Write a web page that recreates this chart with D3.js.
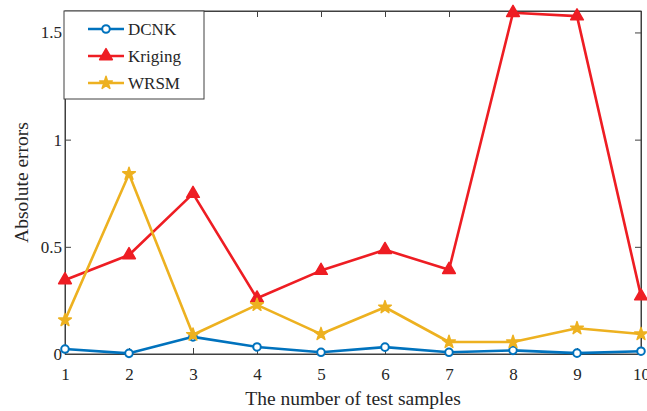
<!DOCTYPE html>
<html>
<head>
<meta charset="utf-8">
<script src="https://cdn.jsdelivr.net/npm/d3@7"></script>
<style>
  body { margin: 0; background: #fff; }
  text { font-family: "Liberation Serif", "Times New Roman", serif; fill: #262626; }
</style>
</head>
<body>
<svg id="chart" width="647" height="411"></svg>
<script>
// --- data ---
const samples = [1, 2, 3, 4, 5, 6, 7, 8, 9, 10];
const dcnk = [0.023, 0.003, 0.08, 0.033, 0.008, 0.032, 0.008, 0.017, 0.004, 0.013];
const kriging = [0.345, 0.462, 0.748, 0.26, 0.389, 0.486, 0.393, 1.592, 1.576, 0.27];
const wrsm = [0.158, 0.84, 0.09, 0.229, 0.093, 0.218, 0.056, 0.056, 0.12, 0.093];
const yTicks = [0, 0.5, 1, 1.5];

const series = [
    { name: "DCNK", values: dcnk, color: "#0072BD", marker: "circle" },
    { name: "Kriging", values: kriging, color: "#EE1D23", marker: "triangle" },
    { name: "WRSM", values: wrsm, color: "#EDB120", marker: "star" },
];

const margin = { left: 65, right: 6, top: 11, bottom: 57 };
const W = 647, H = 411;
const svg = d3.select("#chart");

const x = d3.scaleLinear().domain([1, 10]).range([margin.left, W - margin.right]);
const y = d3.scaleLinear().domain([0, 1.6]).range([H - margin.bottom, margin.top]);

const axisColor = "#404040";

// frame
svg.append("rect")
    .attr("x", x(1)).attr("y", y(1.6))
    .attr("width", x(10) - x(1)).attr("height", y(0) - y(1.6))
    .attr("fill", "none").attr("stroke", axisColor).attr("stroke-width", 1);

// axes (ticks inward)
const gx = svg.append("g").attr("transform", `translate(0,${y(0)})`)
    .call(d3.axisBottom(x).tickValues(samples).tickSize(-6).tickPadding(14).tickFormat(d3.format("d")));
const gy = svg.append("g").attr("transform", `translate(${x(1)},0)`)
    .call(d3.axisLeft(y).tickValues(yTicks).tickSize(-6).tickPadding(3).tickFormat((d) => String(d)));
const gxt = svg.append("g").attr("transform", `translate(0,${y(1.6)})`)
    .call(d3.axisTop(x).tickValues(samples).tickSize(-6).tickFormat(""));
const gyr = svg.append("g").attr("transform", `translate(${x(10)},0)`)
    .call(d3.axisRight(y).tickValues(yTicks).tickSize(-6).tickFormat(""));

[gx, gy, gxt, gyr].forEach((g) => {
    g.attr("font-family", null);
    g.select(".domain").attr("stroke", axisColor);
    g.selectAll(".tick line").attr("stroke", axisColor);
    g.selectAll("text").style("font-size", "17px").attr("fill", "#262626");
});

// lines
const line = d3.line().x((d, i) => x(samples[i])).y((d) => y(d));

const symbolFor = {
    circle: d3.symbol().type(d3.symbolCircle).size(45),
    triangle: d3.symbol().type(d3.symbolTriangle).size(70),
    star: d3.symbol().type(d3.symbolStar).size(50),
};

function drawMarker(sel, s) {
    sel.attr("d", symbolFor[s.marker]())
        .attr("fill", s.marker === "circle" ? "#fff" : s.color)
        .attr("stroke", s.color)
        .attr("stroke-width", s.marker === "circle" ? 2 : 1.5)
        .attr("stroke-linejoin", "round");
}

series.forEach((s) => {
    svg.append("path")
        .datum(s.values)
        .attr("d", line)
        .attr("fill", "none")
        .attr("stroke", s.color)
        .attr("stroke-width", 2.6)
        .attr("stroke-linejoin", "round");

    svg.append("g")
        .selectAll("path")
        .data(s.values)
        .enter()
        .append("path")
        .attr("transform", (d, i) => `translate(${x(samples[i])},${y(d)})`)
        .each(function () { drawMarker(d3.select(this), s); });
});

// legend
const legend = svg.append("g").attr("transform", "translate(64,11)");
legend.append("rect")
    .attr("width", 140).attr("height", 88)
    .attr("fill", "#fff").attr("stroke", axisColor).attr("stroke-width", 1);

series.forEach((s, i) => {
    const ly = 18 + i * 27;
    const row = legend.append("g").attr("transform", `translate(0,${ly})`);
    row.append("line")
        .attr("x1", 24).attr("x2", 60)
        .attr("stroke", s.color).attr("stroke-width", 2.6);
    row.append("path")
        .attr("transform", "translate(42,0)")
        .call((p) => drawMarker(p, s));
    row.append("text")
        .attr("x", 64).attr("y", 6)
        .style("font-size", "17px")
        .text(s.name);
});

// axis labels
svg.append("text")
    .attr("x", (x(1) + x(10)) / 2)
    .attr("y", 405)
    .attr("text-anchor", "middle")
    .style("font-size", "19.5px")
    .text("The number of test samples");

svg.append("text")
    .attr("transform", `translate(28,${(y(0) + y(1.6)) / 2}) rotate(-90)`)
    .attr("text-anchor", "middle")
    .style("font-size", "19.5px")
    .text("Absolute errors");
</script>
</body>
</html>
